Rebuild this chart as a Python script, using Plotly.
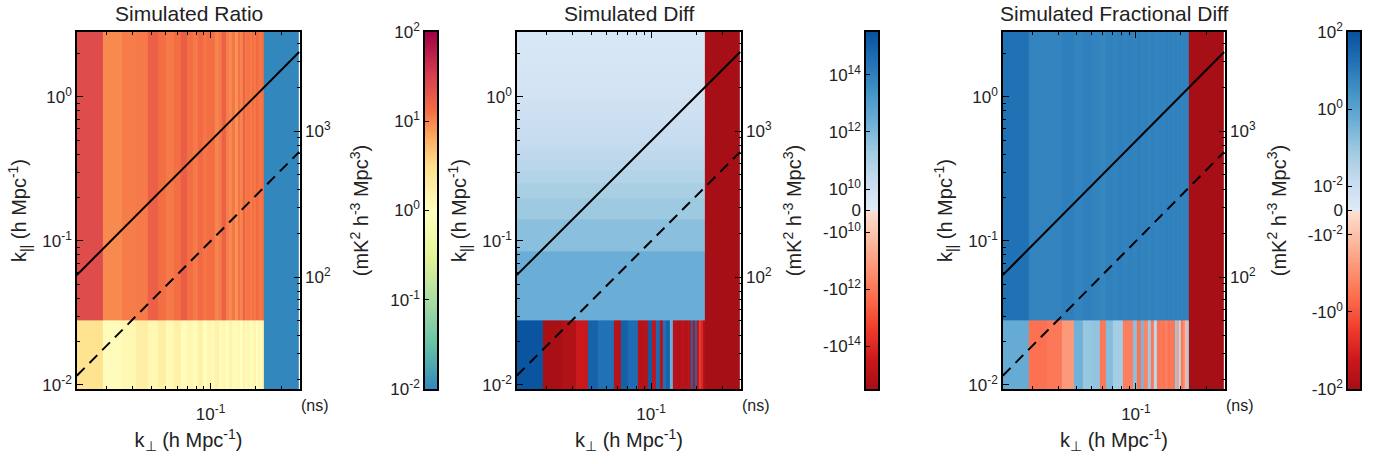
import numpy as np
import plotly.graph_objects as go

W, H = 1388, 464

# ---------------- data ----------------
kperp_edges = [0.0127, 0.0190, 0.0253, 0.0316, 0.0379, 0.0442, 0.0505, 0.0568, 0.0631,
               0.0694, 0.0757, 0.0820, 0.0883, 0.0946, 0.1009, 0.1072, 0.1135, 0.1198,
               0.1261, 0.1324, 0.1387, 0.1450, 0.1513, 0.1576, 0.1639, 0.1702, 0.1765,
               0.1828, 0.1891, 0.1954, 0.2017, 0.2080, 0.2143, 0.2206, 0.2269, 0.3930]
kpar_edges = [0.0090, 0.0281, 0.0843, 0.1405, 0.1967, 0.2529, 0.3091, 0.3653, 0.4215,
              0.4777, 0.5339, 0.5901, 0.70, 0.85, 1.0, 1.2, 1.45, 1.75, 2.1, 2.9]

# Simulated ratio (per k_perp column; last column = region beyond the data)
ratio_upper = [25, 9.5, 11, 11.5, 17, 13, 11.5, 13, 18, 13, 11.5, 14, 12, 13, 13,
               10, 11.5, 17, 11, 9.5, 12, 8.5, 12.5, 10, 17, 11.5, 12.5, 11, 13, 11.5,
               14, 12.5, 11.5, 13, 0.01]
ratio_lower = [2.8, 1.1, 1.3, 1.8, 1.3, 1.8, 1.2, 1.7, 1.1, 1.4, 1.15, 1.7, 1.05, 1.4, 1.2,
               1.6, 1.1, 1.3, 0.9, 1.5, 1.2, 0.8, 1.3, 1.0, 1.6, 1.1, 1.4, 0.9, 1.2, 1.5,
               1.0, 1.3, 1.1, 1.4, 0.01]

# Simulated difference
diff_upper_rows = [2.5e12, 5.6e11, 2.2e11, 1.1e11, 6.3e10, 4.2e10, 3.0e10, 2.2e10, 1.8e10,
                   1.5e10, 1.2e10, 9.0e9, 8.0e9, 6.6e9, 5.8e9, 5.0e9, 4.1e9, 3.3e9]
diff_lower = [2.5e15, -2.5e15, -1.5e15, -3e14, 8e14, 3e14, 3e14, -1e15, 1e15, 4e14,
              4e14, -1.2e15, -1e15, 1.5e15, -6e14, 5e14, -1e15, 3e14, 8e14, 2.5e12,
              -1.2e15, -1e15, -1.5e15, -8e14, -1e15, -1.2e15, -8e14, 6e14, -1e15, 5e14,
              -6e14, -3e13, -1e14, -1e15, -4e15]

# Simulated fractional difference
frac_upper = [17, 6.5, 6.5, 8, 6.3, 7.5, 6.5, 5.5, 7, 6.5, 7.5, 6.3, 7, 6.5, 8,
              6.3, 7, 5.8, 7.5, 6.5, 6.3, 7, 6, 7.5, 6.5, 7, 6.3, 7.2, 6.5, 7.5,
              6.3, 7, 6.5, 7.5, -200]
frac_lower = [0.6, -0.35, -0.25, -0.06, 0.4, 0.1, 0.12, -0.25, 0.2, 0.06, 0.06, -0.2, -0.2,
              0.15, -0.3, 0.3, -0.15, 0.08, -0.25, 0.02, -0.3, -0.25, -0.3, -0.2, -0.35,
              -0.25, -0.3, 0.1, -0.05, 0.02, -0.3, -0.1, -0.02, 0.05, -200]

# horizon (solid) and buffer (dashed) lines
line_kperp = [0.0127, 0.393]
horizon_kpar = [0.058, 2.05]
buffer_kpar = [0.0116, 0.415]

# tick labels
kpar_ticks = [0.01, 0.1, 1]
kpar_ticktext = ["10<sup>-2</sup>", "10<sup>-1</sup>", "10<sup>0</sup>"]
kperp_ticks = [0.1]
kperp_ticktext = ["10<sup>-1</sup>"]
delay_ticks = [100, 1000]
delay_ticktext = ["10<sup>2</sup>", "10<sup>3</sup>"]
cb1_ticks = [0.01, 0.1, 1, 10, 100]
cb1_ticktext = ["10<sup>-2</sup>", "10<sup>-1</sup>", "10<sup>0</sup>", "10<sup>1</sup>", "10<sup>2</sup>"]
cb2_ticks = [-1e14, -1e12, -1e10, 0, 1e10, 1e12, 1e14]
cb2_ticktext = ["-10<sup>14</sup>", "-10<sup>12</sup>", "-10<sup>10</sup>", "0",
                "10<sup>10</sup>", "10<sup>12</sup>", "10<sup>14</sup>"]
cb3_ticks = [-100, -1, -0.01, 0, 0.01, 1, 100]
cb3_ticktext = ["-10<sup>2</sup>", "-10<sup>0</sup>", "-10<sup>-2</sup>", "0",
                "10<sup>-2</sup>", "10<sup>0</sup>", "10<sup>2</sup>"]

titles = ["Simulated Ratio", "Simulated Diff", "Simulated Fractional Diff"]

# ---------------- helpers ----------------
def symlog(v, L, c):
    v = np.asarray(v, dtype=float)
    a = np.abs(v)
    return np.where(a >= L, np.sign(v) * (c + np.log10(np.maximum(a, 1e-300) / L)), c * v / L)

SL2 = (1e10, 0.754, 6.26)   # linthresh, lin-scale, half range (panel 2)
SL3 = (0.01, 0.63, 4.63)    # panel 3

nrow = len(kpar_edges) - 1
ncol = len(kperp_edges) - 1

z1 = np.array([ratio_lower if r == 0 else ratio_upper for r in range(nrow)], dtype=float)
z2 = np.array([diff_lower if r == 0 else diff_upper_rows[r - 1:r] * (ncol - 1) + [diff_lower[-1]]
               for r in range(nrow)], dtype=float)
z3 = np.array([frac_lower if r == 0 else frac_upper for r in range(nrow)], dtype=float)

c1 = np.log10(z1)
c2 = symlog(z2, SL2[0], SL2[1])
c3 = symlog(z3, SL3[0], SL3[1])

spectral = [[0.0, '#3288bd'], [0.125, '#66c2a5'], [0.25, '#abdda4'], [0.375, '#e6f598'],
            [0.5, '#ffffbf'], [0.625, '#fee08b'], [0.7, '#fdae61'], [0.78, '#f46d43'],
            [0.88, '#d53e4f'], [1.0, '#9e0142']]
reds = ['#a50f15', '#cb181d', '#ef3b2c', '#fb6a4a', '#fc9272', '#fcbba1', '#fee0d2']
blues = ['#deebf7', '#c6dbef', '#9ecae1', '#6baed6', '#4292c6', '#2171b5', '#08519c']
rdbu = [[i / 12, c] for i, c in enumerate(reds)] + [[0.5 + i / 12, c] for i, c in enumerate(blues)]
rdbu[6][0] = 0.4999
rdbu[7][0] = 0.5001
rdbu[-1][0] = 1.0

FONT = "Liberation Sans, Arial, Helvetica, sans-serif"
TXT = "#222222"
TF = 17

PANELS = [(77, 300), (517, 741), (1003, 1225)]
CBARS = [(425, 437), (866, 878), (1348, 1360)]
TOP, BOT = 32, 389
ydom = [1 - BOT / H, 1 - TOP / H]

minor_k = [0.02, 0.03, 0.04, 0.05, 0.06, 0.07, 0.08, 0.09, 0.2, 0.3, 0.4, 0.5, 0.6, 0.7, 0.8, 0.9, 2]
minor_d = [20, 30, 40, 50, 60, 70, 80, 90, 200, 300, 400, 500, 600, 700, 800, 900, 2000, 3000, 4000]

fig = go.Figure()
layout = dict(width=W, height=H, margin=dict(l=0, r=0, t=0, b=0),
              paper_bgcolor="white", plot_bgcolor="white", showlegend=False,
              font=dict(family=FONT, size=TF, color=TXT))
annotations = []

def axkey(kind, n):
    return f"{kind}axis" if n == 1 else f"{kind}axis{n}"

data_sets = [(c1, spectral, -2, 2), (c2, rdbu, -SL2[2], SL2[2]), (c3, rdbu, -SL3[2], SL3[2])]

for i in range(3):
    n = 3 * i + 1
    xa, ya, yd, xc = f"x{n}", f"y{n}", f"y{n+1}", f"x{n+2}"
    yc = f"y{n+2}"
    x0, x1 = PANELS[i]
    cz, cs, zmin, zmax = data_sets[i]

    fig.add_trace(go.Heatmap(x=kperp_edges, y=kpar_edges, z=cz, colorscale=cs, zmin=zmin, zmax=zmax,
                             showscale=False, hoverinfo="skip", xaxis=xa, yaxis=ya))
    fig.add_trace(go.Scatter(x=line_kperp, y=horizon_kpar, mode="lines",
                             line=dict(color="black", width=2), hoverinfo="skip", xaxis=xa, yaxis=ya))
    fig.add_trace(go.Scatter(x=line_kperp, y=buffer_kpar, mode="lines",
                             line=dict(color="black", width=2, dash="11px,7px"), hoverinfo="skip",
                             xaxis=xa, yaxis=ya))
    fig.add_trace(go.Scatter(x=[0.05], y=[300], mode="markers", marker=dict(opacity=0),
                             hoverinfo="skip", xaxis=xa, yaxis=yd))

    layout[axkey("x", n)] = dict(type="log", domain=[x0 / W, x1 / W], range=[-1.895, -0.40],
                                 anchor=ya, tickmode="array", tickvals=kperp_ticks, ticktext=kperp_ticktext,
                                 ticks="inside", ticklen=6, tickwidth=1, tickcolor="black",
                                 ticklabelstandoff=9,
                                 minor=dict(tickmode="array", tickvals=minor_k, ticks="inside", ticklen=3,
                                            tickcolor="black", showgrid=False),
                                 showline=True, linecolor="black", linewidth=1.5, mirror="ticks",
                                 showgrid=False, zeroline=False, automargin=False,
                                 title=dict(text="k<sub>⊥</sub> (h Mpc<sup>-1</sup>)", standoff=10),
                                 tickfont=dict(size=TF))
    layout[axkey("y", n)] = dict(type="log", domain=ydom, range=[-2.028, 0.451], anchor=xa,
                                 tickmode="array", tickvals=kpar_ticks, ticktext=kpar_ticktext,
                                 ticks="inside", ticklen=6, tickwidth=1, tickcolor="black",
                                 minor=dict(tickmode="array", tickvals=minor_k, ticks="inside", ticklen=3,
                                            tickcolor="black", showgrid=False),
                                 showline=True, linecolor="black", linewidth=1.5, mirror=True,
                                 showgrid=False, zeroline=False, automargin=False,
                                 title=dict(text="k<sub>||</sub> (h Mpc<sup>-1</sup>)", standoff=10),
                                 tickfont=dict(size=TF))
    layout[axkey("y", n + 1)] = dict(type="log", overlaying=ya, side="right", anchor=xa,
                                     range=[1.233, 3.678], tickmode="array", tickvals=delay_ticks,
                                     ticktext=delay_ticktext, ticks="inside", ticklen=6, tickcolor="black",
                                     ticklabelstandoff=4,
                                     minor=dict(tickmode="array", tickvals=minor_d, ticks="inside", ticklen=3,
                                                tickcolor="black", showgrid=False),
                                     showline=False, showgrid=False, zeroline=False, automargin=False,
                                     tickfont=dict(size=TF))

    cx0, cx1 = CBARS[i]
    if i == 0:
        lo, hi = -2, 2
        tv = list(np.log10(cb1_ticks))
        tt = cb1_ticktext
    elif i == 1:
        lo, hi = -SL2[2], SL2[2]
        tv = list(symlog(cb2_ticks, SL2[0], SL2[1]))
        tt = cb2_ticktext
    else:
        lo, hi = -SL3[2], SL3[2]
        tv = list(symlog(cb3_ticks, SL3[0], SL3[1]))
        tt = cb3_ticktext
    grad_edges = np.linspace(lo, hi, 301)
    grad = 0.5 * (grad_edges[:-1] + grad_edges[1:])
    fig.add_trace(go.Heatmap(x=[0, 1], y=grad_edges, z=grad.reshape(-1, 1), colorscale=cs,
                             zmin=lo, zmax=hi, showscale=False, hoverinfo="skip", xaxis=xc, yaxis=yc))
    layout[axkey("x", n + 2)] = dict(domain=[cx0 / W, cx1 / W], range=[0, 1], anchor=yc,
                                     showticklabels=False, ticks="", showline=True, mirror=True,
                                     linecolor="black", linewidth=1.5, showgrid=False, zeroline=False,
                                     automargin=False)
    layout[axkey("y", n + 2)] = dict(domain=ydom, range=[lo, hi], anchor=xc, side="left",
                                     tickmode="array", tickvals=tv, ticktext=tt, ticks="inside",
                                     ticklen=4, tickcolor="black", showline=True, mirror=True,
                                     linecolor="black", linewidth=1.5, showgrid=False, zeroline=False,
                                     automargin=False, tickfont=dict(size=TF),
                                     title=dict(text="(mK<sup>2</sup> h<sup>-3</sup> Mpc<sup>3</sup>)",
                                                standoff=16))

    annotations.append(dict(text=titles[i], x=(x0 + x1) / 2 / W, y=1 - 14 / H, xref="paper", yref="paper",
                            showarrow=False, font=dict(size=21, color=TXT), xanchor="center", yanchor="middle"))
    annotations.append(dict(text="(ns)", x=(x1 + 15) / W, y=1 - 405 / H, xref="paper", yref="paper",
                            showarrow=False, font=dict(size=16, color=TXT), xanchor="center", yanchor="middle"))

layout["annotations"] = annotations
fig.update_layout(**layout)
fig.write_html("out.html")
